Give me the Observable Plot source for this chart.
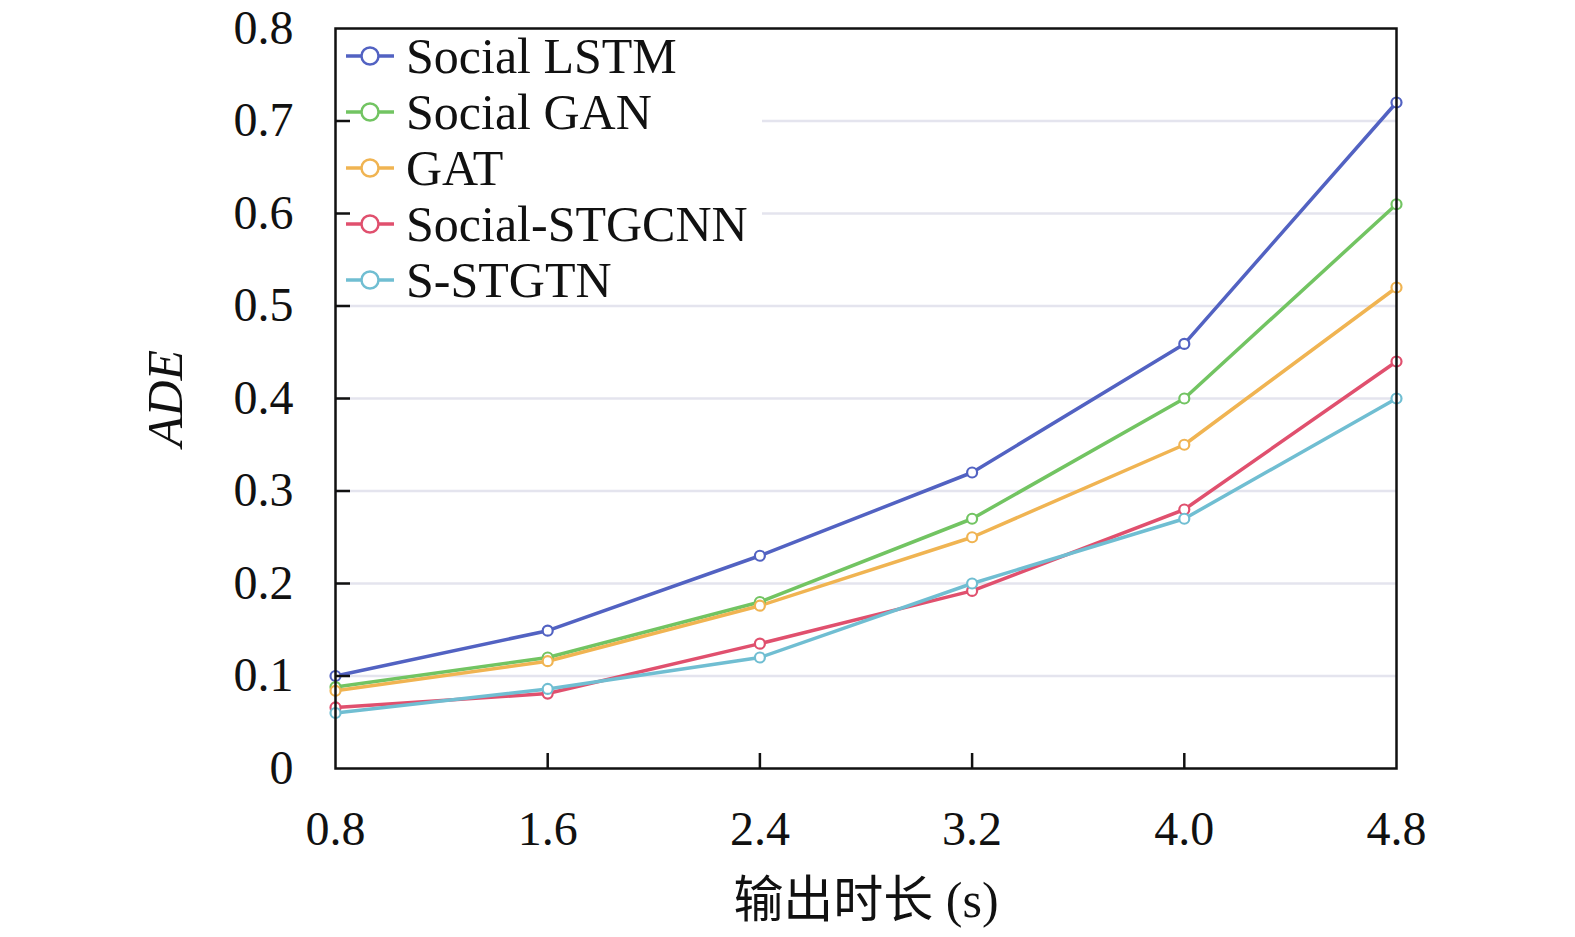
<!DOCTYPE html>
<html>
<head>
<meta charset="utf-8">
<script src="https://cdn.jsdelivr.net/npm/d3@7"></script>
<script src="https://cdn.jsdelivr.net/npm/@observablehq/plot@0.6"></script>
<style>
  html, body { margin: 0; padding: 0; background: white; overflow: hidden; }
  #chart svg { display: block; max-width: none !important; }
</style>
</head>
<body>
<div id="chart"></div>
<script>
const times = [0.8, 1.6, 2.4, 3.2, 4.0, 4.8];
const models = ["Social LSTM", "Social GAN", "GAT", "Social-STGCNN", "S-STGTN"];
const colors = ["#5262c2", "#72c462", "#f0b452", "#e0506e", "#70bed2"];
const socialLSTM   = [0.100, 0.149, 0.230, 0.320, 0.459, 0.720];
const socialGAN    = [0.088, 0.120, 0.180, 0.270, 0.400, 0.610];
const gat          = [0.084, 0.116, 0.176, 0.250, 0.350, 0.520];
const socialSTGCNN = [0.066, 0.081, 0.135, 0.192, 0.280, 0.440];
const sSTGTN       = [0.060, 0.086, 0.120, 0.200, 0.270, 0.400];
const xTicks = [0.8, 1.6, 2.4, 3.2, 4.0, 4.8];
const yTicks = [0, 0.1, 0.2, 0.3, 0.4, 0.5, 0.6, 0.7, 0.8];
const gridTicks = [0.1, 0.2, 0.3, 0.4, 0.5, 0.6, 0.7];
const innerXTicks = [1.6, 2.4, 3.2, 4.0];
const innerYTicks = [0.1, 0.2, 0.3, 0.4, 0.5, 0.6, 0.7];
const xLabel = "输出时长 (s)";
const yLabel = "ADE";

const series = [socialLSTM, socialGAN, gat, socialSTGCNN, sSTGTN];
const table = [];
series.forEach((vals, i) => vals.forEach((v, j) => table.push({model: models[i], t: times[j], v})));

const W = 1575, H = 937, mL = 335, mR = 179, mT = 28, mB = 169;
const fw = W - mL - mR, fh = H - mT - mB;
const tickLen = 15;
const font = "'Liberation Serif', 'Times New Roman', 'Noto Sans CJK SC', serif";

const chart = Plot.plot({
  width: W, height: H,
  marginLeft: mL, marginRight: mR, marginTop: mT, marginBottom: mB,
  x: {domain: [0.8, 4.8]},
  y: {domain: [0, 0.8]},
  color: {domain: models, range: colors},
  style: {fontFamily: font, background: "white", color: "#111"},
  marks: [
    Plot.ruleY(gridTicks, {stroke: "#e4e4ee", strokeWidth: 2.5}),
    Plot.line(table, {x: "t", y: "v", stroke: "model", z: "model", strokeWidth: 3.5}),
    Plot.dot(table, {x: "t", y: "v", stroke: "model", fill: "white", r: 5, strokeWidth: 2.2}),
    Plot.tickY(innerYTicks, {y: d => d, insetRight: fw - tickLen, stroke: "#111", strokeWidth: 2.5}),
    Plot.tickX(innerXTicks, {x: d => d, insetTop: fh - tickLen, stroke: "#111", strokeWidth: 2.5}),
    Plot.frame({stroke: "#111", strokeWidth: 2.5}),
    Plot.axisY(yTicks, {tickSize: 0, tickPadding: 42, fontSize: 48, label: null,
      tickFormat: d => d === 0 ? "0" : d.toFixed(1), fill: "#111"}),
    Plot.axisX(xTicks, {tickSize: 0, tickPadding: 42, fontSize: 48, label: null,
      tickFormat: d => d.toFixed(1), fill: "#111"}),
    Plot.text([yLabel], {frameAnchor: "left", dx: -170, rotate: -90, textAnchor: "middle", lineAnchor: "middle",
      fontStyle: "italic", fontSize: 50, fill: "#111"}),
    Plot.text([xLabel], {frameAnchor: "bottom", dy: 132, textAnchor: "middle", lineAnchor: "middle",
      fontSize: 50, fill: "#111"})
  ]
});
chart.style.maxWidth = "none";

// legend inside plot area (top-left), drawn below the ticks/frame
const before = chart.querySelector("[aria-label='line']");
const lg = d3.select(chart).insert("g", () => before);
lg.append("rect").attr("x", mL + 3).attr("y", mT + 3).attr("width", 424).attr("height", 270).attr("fill", "white");
models.forEach((m, i) => {
  const cy = 56 + i * 56;
  lg.append("line").attr("x1", 346).attr("x2", 394).attr("y1", cy).attr("y2", cy)
    .attr("stroke", colors[i]).attr("stroke-width", 3.5);
  lg.append("circle").attr("cx", 370).attr("cy", cy).attr("r", 8.5)
    .attr("fill", "white").attr("stroke", colors[i]).attr("stroke-width", 2.5);
  lg.append("text").attr("x", 406).attr("y", cy).attr("dy", "0.34em")
    .attr("text-anchor", "start")
    .attr("font-size", 50).attr("fill", "#111").attr("font-family", font).text(m);
});

document.getElementById("chart").appendChild(chart);
</script>
</body>
</html>
